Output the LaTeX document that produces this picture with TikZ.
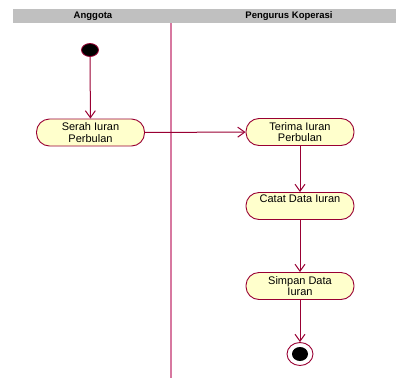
\documentclass[tikz,border=0pt]{standalone}
\usepackage{fontspec}
\setmainfont{Liberation Sans}
\usetikzlibrary{arrows.meta, shapes.geometric}

\definecolor{umlline}{RGB}{153,0,51}
\definecolor{umlfill}{RGB}{255,255,204}
\definecolor{lanegray}{RGB}{192,192,192}
\definecolor{lanepink}{RGB}{215,120,160}

\begin{document}
\begin{tikzpicture}[x=1pt, y=-1pt,
  action/.style={draw=umlline, fill=umlfill, line width=0.9pt, rounded corners=13pt,
    minimum width=108pt, minimum height=27pt, inner sep=1pt, align=center,
    font=\fontsize{11}{11.5}\selectfont},
  oneline/.style={text height=8pt, text depth=16pt},
  flow/.style={draw=umlline, line width=1pt, -{Straight Barb[length=7pt, width=10pt]}},
  header/.style={font=\fontsize{9.5}{11}\selectfont\bfseries}]

\useasboundingbox (0,0) rectangle (396,378);

% swimlane header
\fill[lanegray] (13,9) rectangle (396,23);
\node[header] (anggota) at (93,16) {Anggota};
\node[header] (pengurus) at (289,16) {Pengurus Koperasi};

% lane divider
\draw[lanepink, line width=1.6pt] (171,23) -- (171,378);

% start and end states
\node[ellipse, draw=umlline, fill=black, line width=0.8pt, minimum width=17pt,
  minimum height=13pt, inner sep=0pt] (start) at (90,50) {};
\node[ellipse, draw=umlline, fill=white, line width=0.9pt, minimum width=26pt,
  minimum height=23pt, inner sep=0pt] (stop) at (300,354) {};
\node[ellipse, fill=black, minimum width=16pt, minimum height=14pt, inner sep=0pt]
  (stopdot) at (300,354) {};

% activities
\node[action] (serah) at (90.5,132.5) {Serah Iuran\\Perbulan};
\node[action] (terima) at (300,132) {Terima Iuran\\Perbulan};
\node[action, oneline] (catat) at (300,206) {Catat Data Iuran};
\node[action] (simpan) at (300,286) {Simpan Data\\Iuran};

% transitions
\draw[flow] (start) -- (serah);
\draw[flow] (serah) -- (terima);
\draw[flow] (terima) -- (catat);
\draw[flow] (catat) -- (simpan);
\draw[flow] (simpan) -- (stop);

\end{tikzpicture}
\end{document}
